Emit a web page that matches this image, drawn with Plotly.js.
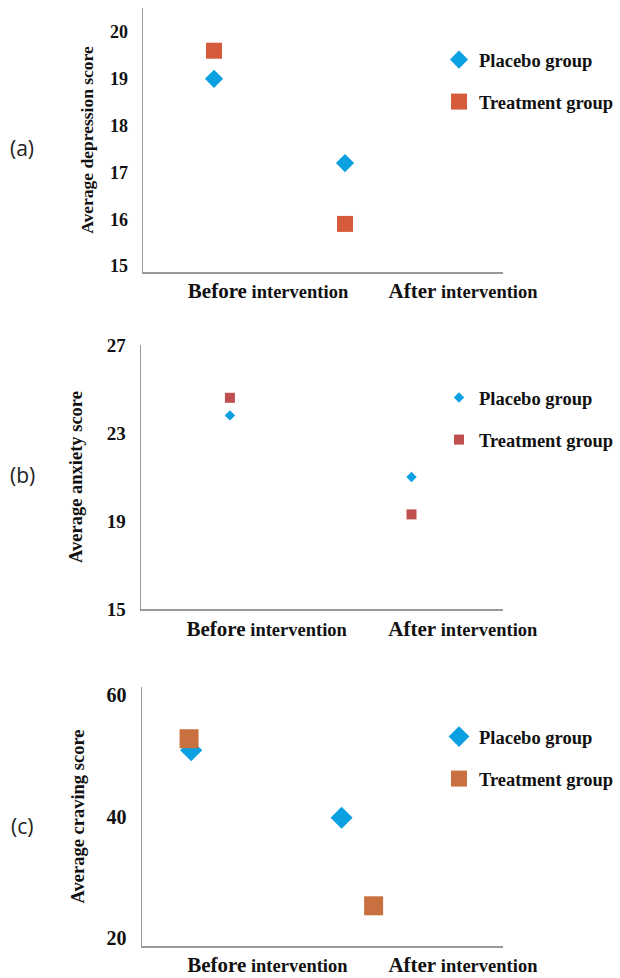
<!DOCTYPE html>
<html>
<head>
<meta charset="utf-8">
<script src="https://cdn.plot.ly/plotly-3.0.1.min.js"></script>
<style>html,body{margin:0;padding:0;background:#fff;}#chart{width:620px;height:978px;}</style>
</head>
<body>
<div id="chart"></div>
<script>
// ---- data ----
const categories = ['Before intervention', 'After intervention'];
const groupNames = ['Placebo group', 'Treatment group'];
const panelLabels = ['(a)', '(b)', '(c)'];
const yTitles = ['Average depression score', 'Average anxiety score', 'Average craving score'];

const depressionPlacebo = [19.0, 17.2];
const depressionTreatment = [19.6, 15.9];
const anxietyPlacebo = [23.8, 21.0];
const anxietyTreatment = [24.6, 19.3];
const cravingPlacebo = [50.9, 39.8];
const cravingTreatment = [52.8, 25.3];

const depressionTicks = [15, 16, 17, 18, 19, 20];
const anxietyTicks = [15, 19, 23, 27];
const cravingTicks = [20, 40, 60];

// ---- styling ----
const H = 978, W = 620;
const placeboColor = '#0AA0E2';
const treatColors = ['#D65A3C', '#C0504D', '#C8703F'];
const serif = 'Liberation Serif, Times New Roman, serif';
const axisColor = '#9a9a9a';

function py(px) { return 1 - px / H; }
function pxw(px) { return px / W; }

const tickText = categories.map(c => {
  const parts = c.split(' ');
  return "<span style='font-size:21px'>" + parts[0] + "</span> " + parts.slice(1).join(' ');
});

const panels = [
  {yd: [py(272), py(8)], xd: [pxw(143), pxw(503)], yr: [14.872, 20.513], ticks: depressionTicks,
   pl: depressionPlacebo, tr: depressionTreatment, ps: 14, ts: 16, tickSize: 18, titleSize: 17.5,
   standoff: 12, xStandoff: 2, labelY: 148, legendTop: 41},
  {yd: [py(609), py(345)], xd: [pxw(141), pxw(503)], yr: [15, 27], ticks: anxietyTicks,
   pl: anxietyPlacebo, tr: anxietyTreatment, ps: 8, ts: 10, tickSize: 19, titleSize: 18.5,
   standoff: 19, xStandoff: 3, labelY: 475, legendTop: 379},
  {yd: [py(946), py(687)], xd: [pxw(142), pxw(503)], yr: [18.683, 61.317], ticks: cravingTicks,
   pl: cravingPlacebo, tr: cravingTreatment, ps: 17, ts: 19, tickSize: 20, titleSize: 18.5,
   standoff: 17, xStandoff: 2, labelY: 826, legendTop: 718}
];

// hidden category axes that position the markers (range in category index units)
const markerAxes = [
  {parent: 0, range: [-0.542, 2.206]},   // (a)
  {parent: 1, range: [-0.490, 1.504]},   // (b)
  {parent: 2, range: [-0.327, 2.073]},   // (c) placebo
  {parent: 2, range: [-0.255, 1.701]}    // (c) treatment
];
const traceAxis = [[0, 0], [1, 1], [2, 3]];

const layout = {
  width: W, height: H,
  margin: {l: 0, r: 0, t: 0, b: 0},
  paper_bgcolor: '#fff', plot_bgcolor: 'rgba(0,0,0,0)',
  showlegend: true,
  annotations: [],
  font: {family: serif, color: '#111'}
};

const data = [];

panels.forEach((p, i) => {
  const n = i === 0 ? '' : String(i + 1);
  layout['xaxis' + n] = {
    domain: p.xd, anchor: 'y' + n, range: [-0.641, 1.205],
    tickvals: [0, 1], ticktext: tickText, ticks: '',
    tickfont: {family: serif, size: 18.5, weight: 'bold', color: '#111'},
    ticklabelstandoff: p.xStandoff,
    showline: true, linecolor: axisColor, linewidth: 1.5,
    showgrid: false, zeroline: false, fixedrange: true
  };
  layout['yaxis' + n] = {
    domain: p.yd, anchor: 'x' + n, range: p.yr,
    tickvals: p.ticks, ticks: '', ticklabelstandoff: 10,
    tickfont: {family: serif, size: p.tickSize, weight: 'bold', color: '#111'},
    showline: true, linecolor: axisColor, linewidth: 1.5,
    showgrid: false, zeroline: false, fixedrange: true,
    title: {text: yTitles[i], font: {family: serif, size: p.titleSize, weight: 'bold', color: '#111'}, standoff: p.standoff}
  };
  const lg = 'legend' + n;
  layout[lg] = {
    x: pxw(439), xanchor: 'left', y: py(p.legendTop), yanchor: 'top',
    bgcolor: 'rgba(0,0,0,0)', tracegroupgap: 15,
    font: {family: serif, size: 18.5, weight: 'bold', color: '#111'}
  };
  layout.annotations.push({
    xref: 'paper', yref: 'paper', x: pxw(22), y: py(p.labelY),
    xanchor: 'center', yanchor: 'middle', showarrow: false,
    text: panelLabels[i], font: {family: 'Open Sans, sans-serif', size: 21, color: '#222'}
  });

  // empty trace so the category-label axis pair is drawn as a subplot
  data.push({
    type: 'scatter', mode: 'markers', x: [], y: [], xaxis: 'x' + n, yaxis: 'y' + n,
    showlegend: false, hoverinfo: 'skip'
  });

  const axP = traceAxis[i][0] + 4, axT = traceAxis[i][1] + 4;
  data.push({
    type: 'scatter', mode: 'markers', x: categories, y: p.pl, name: groupNames[0],
    xaxis: 'x' + axP, yaxis: 'y' + n, legend: lg, legendgroup: 'p' + i,
    marker: {symbol: 'diamond', size: p.ps, color: placeboColor}
  });
  data.push({
    type: 'scatter', mode: 'markers', x: categories, y: p.tr, name: groupNames[1],
    xaxis: 'x' + axT, yaxis: 'y' + n, legend: lg, legendgroup: 't' + i,
    marker: {symbol: 'square', size: p.ts, color: treatColors[i]}
  });
});

markerAxes.forEach((m, k) => {
  const parentN = m.parent === 0 ? '' : String(m.parent + 1);
  layout['xaxis' + (k + 4)] = {
    type: 'category', categoryarray: categories, categoryorder: 'array',
    domain: panels[m.parent].xd, anchor: 'y' + parentN,
    range: m.range, visible: false, fixedrange: true
  };
});

Plotly.newPlot('chart', data, layout, {staticPlot: true, displayModeBar: false});
</script>
</body>
</html>
